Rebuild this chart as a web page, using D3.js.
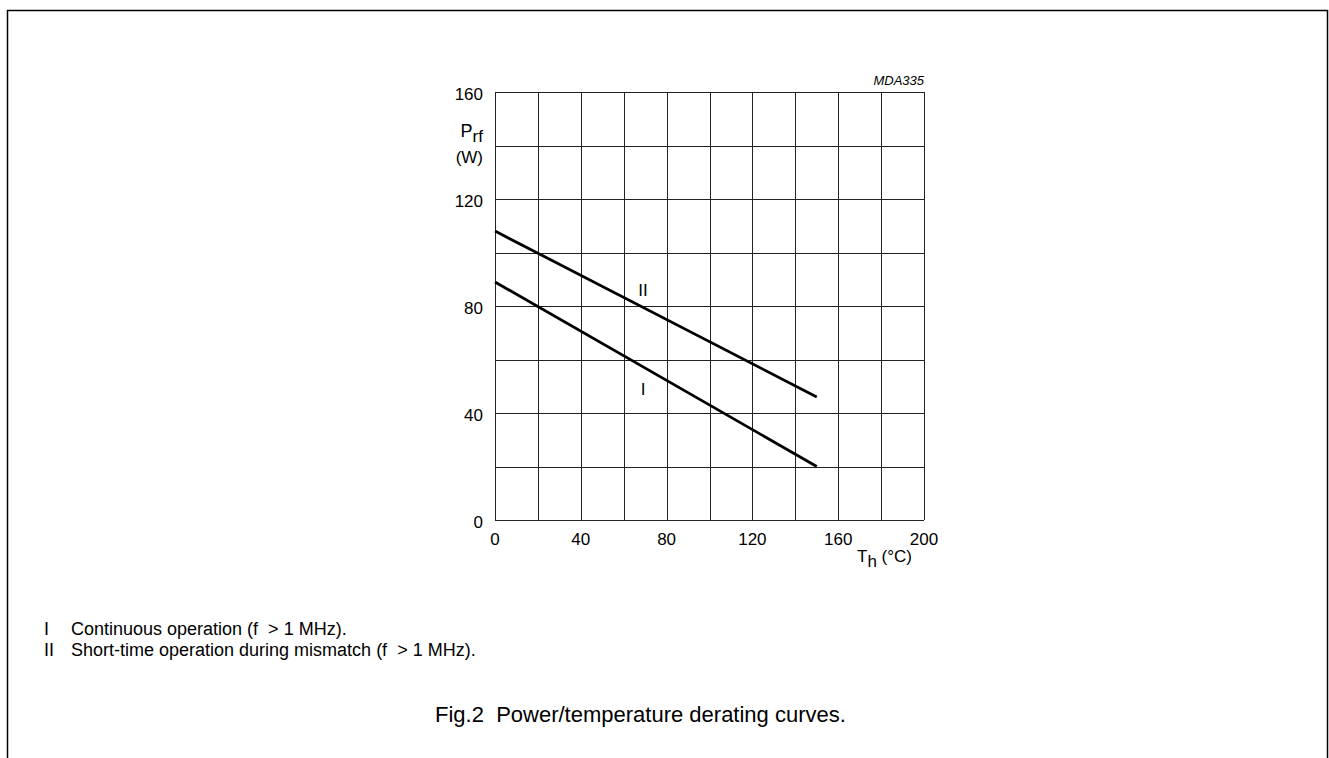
<!DOCTYPE html>
<html>
<head>
<meta charset="utf-8">
<script src="https://cdn.jsdelivr.net/npm/d3@7"></script>
<style>
  body { margin: 0; background: #fff; }
  svg { display: block; font-family: "Liberation Sans", Arial, sans-serif; }
  .grid line { stroke: #222; stroke-width: 1; shape-rendering: crispEdges; }
  .curve { fill: none; stroke: #000; stroke-width: 2.8; }
  .tick-label { font-size: 17px; fill: #000; }
</style>
</head>
<body>
<svg id="chart" width="1329" height="758"></svg>
<script>
'use strict'

// temperature of heatsink (degC) and rf power (W)
const tempI = [0, 150]
const powerI = [89, 20]
const tempII = [0, 150]
const powerII = [108, 46]

const xTicks = [0, 40, 80, 120, 160, 200]
const yTicks = [0, 40, 80, 120, 160]
const xGrid = d3.range(0, 201, 20)
const yGrid = d3.range(0, 161, 20)

const notes = [
  ["I", "Continuous operation (f  > 1 MHz)."],
  ["II", "Short-time operation during mismatch (f  > 1 MHz)."]
]

const plot = {left: 495, top: 92, width: 429, height: 428}

const x = d3.scaleLinear().domain([0, 200]).range([plot.left, plot.left + plot.width])
const y = d3.scaleLinear().domain([0, 160]).range([plot.top + plot.height, plot.top])

const svg = d3.select('#chart')

// page frame (open at the bottom)
svg.append("path")
  .attr("d", "M7.5,758 V10.5 H1327.5 V758")
  .attr("fill", "none")
  .attr("stroke", "#000")
  .attr("stroke-width", 1.5)

// grid
const grid = svg.append("g").classed("grid", true)
grid.selectAll(".vx").data(xGrid).enter().append("line")
  .attr("x1", d => Math.round(x(d)) + 0.5).attr("x2", d => Math.round(x(d)) + 0.5)
  .attr("y1", y(0)).attr("y2", y(160))
grid.selectAll(".hy").data(yGrid).enter().append("line")
  .attr("x1", x(0)).attr("x2", x(200))
  .attr("y1", d => Math.round(y(d)) + 0.5).attr("y2", d => Math.round(y(d)) + 0.5)

// tick labels
svg.selectAll(".xt").data(xTicks).enter().append("text")
  .classed("tick-label", true)
  .attr("x", d => x(d)).attr("y", y(0) + 25)
  .attr("text-anchor", "middle")
  .text(d => d)
svg.selectAll(".yt").data(yTicks).enter().append("text")
  .classed("tick-label", true)
  .attr("x", x(0) - 12).attr("y", d => y(d) + 7.5)
  .attr("text-anchor", "end")
  .text(d => d)

// curves
const line = d3.line().x(d => x(d[0])).y(d => y(d[1]))
svg.append("path").classed("curve", true)
  .attr("d", line(d3.zip(tempI, powerI)))
svg.append("path").classed("curve", true)
  .attr("d", line(d3.zip(tempII, powerII)))

// curve labels
svg.append("text").attr("x", x(69)).attr("y", y(86) + 6)
  .attr("text-anchor", "middle").attr("font-size", 17).text("II")
svg.append("text").attr("x", x(69)).attr("y", y(49) + 6)
  .attr("text-anchor", "middle").attr("font-size", 17).text("I")

// y axis label
const yl = svg.append("text").attr("x", 483).attr("y", 137)
  .attr("text-anchor", "end").attr("font-size", 18)
yl.append("tspan").text("P")
yl.append("tspan").attr("dy", 5).attr("font-size", 17).text("rf")
svg.append("text").attr("x", 483).attr("y", 163)
  .attr("text-anchor", "end").attr("font-size", 17).text("(W)")

// x axis label
const xl = svg.append("text").attr("x", 912).attr("y", 562)
  .attr("text-anchor", "end").attr("font-size", 17)
xl.append("tspan").text("T")
xl.append("tspan").attr("dy", 5).text("h")
xl.append("tspan").attr("dy", -5).attr("xml:space", "preserve").text(" (°C)")

// figure code
svg.append("text").attr("x", x(200)).attr("y", 85)
  .attr("text-anchor", "end").attr("font-size", 13).attr("font-style", "italic")
  .text("MDA335")

// notes
notes.forEach((n, i) => {
  svg.append("text").attr("x", 44).attr("y", 635 + i * 21).attr("font-size", 18).text(n[0])
  svg.append("text").attr("x", 71).attr("y", 635 + i * 21).attr("font-size", 18)
    .attr("xml:space", "preserve").text(n[1])
})

// caption
svg.append("text").attr("x", 435).attr("y", 722).attr("font-size", 22)
  .attr("xml:space", "preserve")
  .text("Fig.2  Power/temperature derating curves.")
</script>
</body>
</html>
